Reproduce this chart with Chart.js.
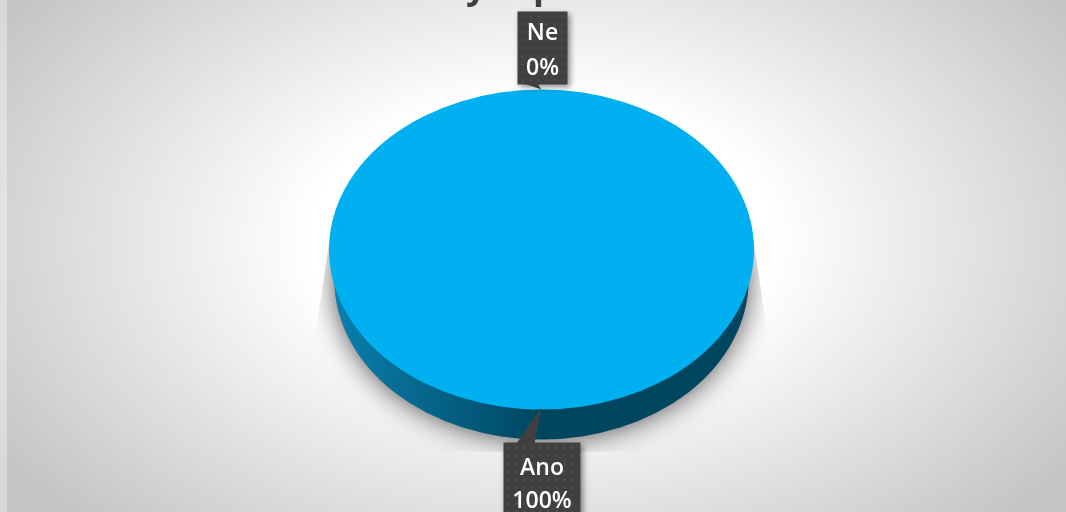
<!DOCTYPE html>
<html>
<head>
<meta charset="utf-8">
<style>
  html, body { margin: 0; padding: 0; background: #ffffff; overflow: hidden; }
  #wrap { position: absolute; left: 0; top: 0; width: 1066px; height: 512px; }
</style>
<script src="https://cdn.jsdelivr.net/npm/chart.js@4/dist/chart.umd.min.js"></script>
</head>
<body>
<div id="wrap"><canvas id="pieChart"></canvas></div>
<script>
const categories = ['Ano', 'Ne'];
const values = [100, 0];
const percentLabels = ['100%', '0%'];
const titleGlyphs = ['y', 'p'];

const pieFlatten = 160 / 212.5;   // tilt of the 3D pie
const pieDepth = 30;
const wallShrink = 0.975;         // lower rim is a bit narrower than the top

// background + cut off title
const backdrop = {
    id: 'backdrop',
    beforeDraw(chart) {
        const { ctx, height } = chart;
        ctx.save();
        ctx.translate(541, 240);
        ctx.scale(1, 0.62);
        const g = ctx.createRadialGradient(0, 0, 230, 0, 0, 640);
        g.addColorStop(0, '#ffffff');
        g.addColorStop(1, '#c5c5c5');
        ctx.fillStyle = g;
        ctx.fillRect(-600, -500, 1200, 1000);
        ctx.restore();
        ctx.fillStyle = 'rgba(255,255,255,0.35)';
        ctx.fillRect(0, 0, 7, height);
        ctx.fillStyle = '#404040';
        ctx.font = 'bold 36px "Open Sans"';
        ctx.textBaseline = 'alphabetic';
        ctx.fillText(titleGlyphs[0], 466, -2);
        ctx.fillText(titleGlyphs[1], 533, -2);
    }
};

// squashes the pie and draws shadow and side wall under it
const tiltPie = {
    id: 'tiltPie',
    beforeDatasetsDraw(chart) {
        const { ctx } = chart;
        const arc = chart.getDatasetMeta(0).data[0];
        const { x, y, outerRadius } = arc.getProps(['x', 'y', 'outerRadius'], true);
        const ry = outerRadius * pieFlatten;
        const wallRx = outerRadius * wallShrink;

        // shadow, cut by a tapered box like the reference
        ctx.save();
        ctx.beginPath();
        ctx.moveTo(x - 212, y - 10);
        ctx.lineTo(x - 226, y + 85);
        ctx.lineTo(x - 226, y + 202);
        ctx.lineTo(x + 226, y + 202);
        ctx.lineTo(x + 226, y + 85);
        ctx.lineTo(x + 212, y - 10);
        ctx.closePath();
        ctx.clip();
        ctx.shadowColor = 'rgba(0,0,0,0.7)';
        ctx.shadowBlur = 28;
        ctx.fillStyle = '#999999';
        ctx.beginPath();
        ctx.ellipse(x, y + pieDepth, wallRx, ry, 0, 0, Math.PI * 2);
        ctx.fill();
        ctx.restore();

        // side wall
        const side = ctx.createLinearGradient(x - wallRx, 0, x + wallRx, 0);
        side.addColorStop(0, '#0a7fad');
        side.addColorStop(0.5, '#00465f');
        side.addColorStop(1, '#00465f');
        ctx.save();
        ctx.fillStyle = side;
        ctx.beginPath();
        ctx.ellipse(x, y + pieDepth, wallRx, ry, 0, 0, Math.PI * 2);
        ctx.fill();
        ctx.restore();

        ctx.save();
        ctx.translate(x, y);
        ctx.scale(1, pieFlatten);
        ctx.translate(-x, -y);
    },
    afterDatasetsDraw(chart) {
        chart.ctx.restore();
    }
};

// dark callouts with pointer
const callouts = {
    id: 'callouts',
    afterDraw(chart) {
        const { ctx } = chart;
        const meta = chart.getDatasetMeta(0);
        meta.data.forEach((arc, i) => {
            const p = arc.getProps(['x', 'y', 'outerRadius', 'startAngle', 'endAngle'], true);
            const mid = (p.startAngle + p.endAngle) / 2;
            const tipX = p.x + Math.cos(mid) * p.outerRadius;
            const tipY = p.y + Math.sin(mid) * p.outerRadius * pieFlatten;
            const below = tipY > p.y;
            const w = below ? 77 : 50;
            const h = below ? 80 : 73;
            const bx = below ? tipX - 38 : tipX - 24;
            const by = below ? tipY + 33 : tipY - 78;

            ctx.save();
            ctx.shadowColor = 'rgba(0,0,0,0.45)';
            ctx.shadowBlur = 6;
            ctx.shadowOffsetX = 2;
            ctx.shadowOffsetY = 2;
            ctx.fillStyle = '#404040';
            ctx.fillRect(bx, by, w, h);
            ctx.restore();

            ctx.fillStyle = '#404040';
            ctx.beginPath();
            if (below) {
                ctx.moveTo(tipX, tipY - 2);
                ctx.lineTo(tipX - 25, by + 1);
                ctx.lineTo(tipX - 7, by + 1);
            } else {
                ctx.moveTo(tipX, tipY);
                ctx.lineTo(tipX - 18, by + h - 1);
                ctx.lineTo(tipX - 4, by + h - 1);
            }
            ctx.closePath();
            ctx.fill();

            // dot pattern
            ctx.fillStyle = 'rgba(255,255,255,0.09)';
            for (let dy = 4; dy < h; dy += 8) {
                for (let dx = 4; dx < w; dx += 8) {
                    ctx.fillRect(bx + dx, by + dy, 2, 2);
                }
            }

            ctx.fillStyle = '#ffffff';
            ctx.font = '600 23px "Open Sans"';
            ctx.textAlign = 'center';
            ctx.textBaseline = 'middle';
            ctx.fillText(categories[i], bx + w / 2, by + (below ? 26 : 22));
            ctx.fillText(percentLabels[i], bx + w / 2, by + (below ? 59 : 57));
        });
    }
};

function initializeChart() {
    const ctx = document.getElementById('pieChart').getContext('2d');
    return new Chart(ctx, {
        type: 'pie',
        data: {
            labels: categories,
            datasets: [{
                data: values,
                backgroundColor: ['#00b0f0', '#0070c0'],
                borderWidth: 0
            }]
        },
        options: {
            responsive: true,
            maintainAspectRatio: false,
            animation: false,
            layout: { padding: { left: 329, right: 312, top: 37, bottom: 50 } },
            plugins: {
                legend: { display: false },
                tooltip: { enabled: false }
            }
        },
        plugins: [backdrop, tiltPie, callouts]
    });
}

document.addEventListener('DOMContentLoaded', () => {
    initializeChart();
});
</script>
</body>
</html>
